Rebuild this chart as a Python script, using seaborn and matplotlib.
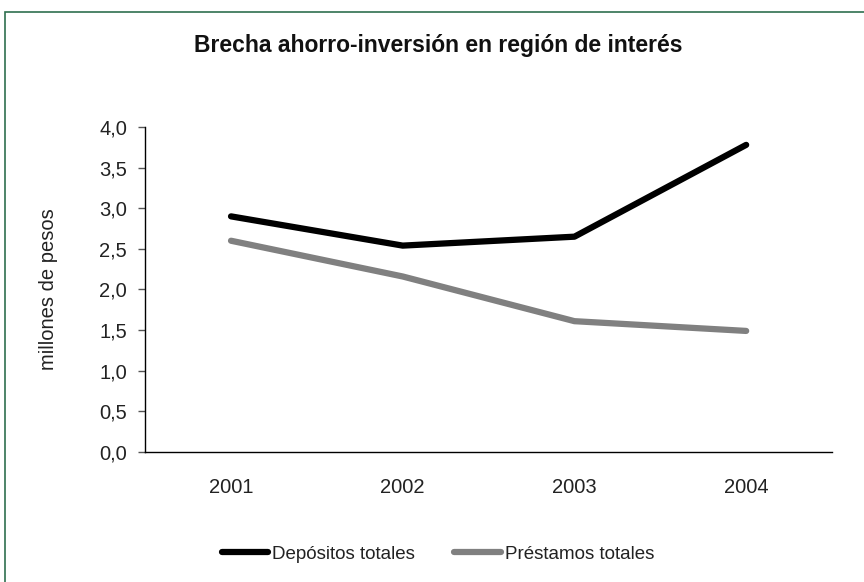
import pandas as pd
import matplotlib.pyplot as plt
import seaborn as sns
from matplotlib.patches import Rectangle
from matplotlib.ticker import FuncFormatter

years = ["2001", "2002", "2003", "2004"]
depositos = [2.90, 2.54, 2.65, 3.78]
prestamos = [2.60, 2.16, 1.61, 1.49]
series_names = ["Depósitos totales", "Préstamos totales"]

df = pd.DataFrame({
    "year": years * 2,
    "value": depositos + prestamos,
    "serie": [series_names[0]] * 4 + [series_names[1]] * 4,
})

sns.set_style("white")
plt.rcParams['font.family'] = ['Liberation Sans', 'DejaVu Sans']

fig = plt.figure(figsize=(8.64, 5.82), dpi=100)
ax = fig.add_axes([0.168, 0.2234, 0.795, 0.5584])

sns.lineplot(data=df, x="year", y="value", hue="serie",
             palette={series_names[0]: "black", series_names[1]: "#808080"},
             linewidth=4.5, ax=ax, legend=False, solid_capstyle="round")

ax.set_xlim(-0.5, 3.5)
ax.set_ylim(0, 4.0)
ax.set_yticks([0, 0.5, 1.0, 1.5, 2.0, 2.5, 3.0, 3.5, 4.0])
ax.yaxis.set_major_formatter(FuncFormatter(lambda v, p: f"{v:.1f}".replace(".", ",")))
ax.tick_params(axis="y", length=5, width=1, color="#555555", labelsize=14.5,
               pad=8, left=True, labelcolor="#222222")
ax.tick_params(axis="x", length=0, labelsize=14.5, pad=19, labelcolor="#222222")
ax.set_xlabel("")
ax.set_ylabel("millones de pesos", fontsize=14.5, color="#222222")
ax.yaxis.set_label_coords(-0.127, 0.5)
for s in ["top", "right"]:
    ax.spines[s].set_visible(False)
for s in ["left", "bottom"]:
    ax.spines[s].set_color("black")
    ax.spines[s].set_linewidth(1)

# title: reference uses wide letter spacing
fig.text(0.507, 0.921, "Brecha ahorro-inversión en región de interés",
         ha="center", va="center", fontsize=16.5, fontweight="bold", color="#111111")

ax.legend(handles=ax.get_lines()[:2], labels=series_names, loc="center",
          bbox_to_anchor=(0.507, 0.048), bbox_transform=fig.transFigure,
          ncol=2, frameon=False, fontsize=13.5, handlelength=2.5,
          handletextpad=0.2, columnspacing=2.1, labelcolor="#222222")

fig.patches.append(Rectangle((5 / 864, -0.1), 1.2, 1.1 - 12 / 582,
                             transform=fig.transFigure, fill=False,
                             edgecolor="#2f6f4f", linewidth=1.2))

fig.savefig("out.png", dpi=100)
